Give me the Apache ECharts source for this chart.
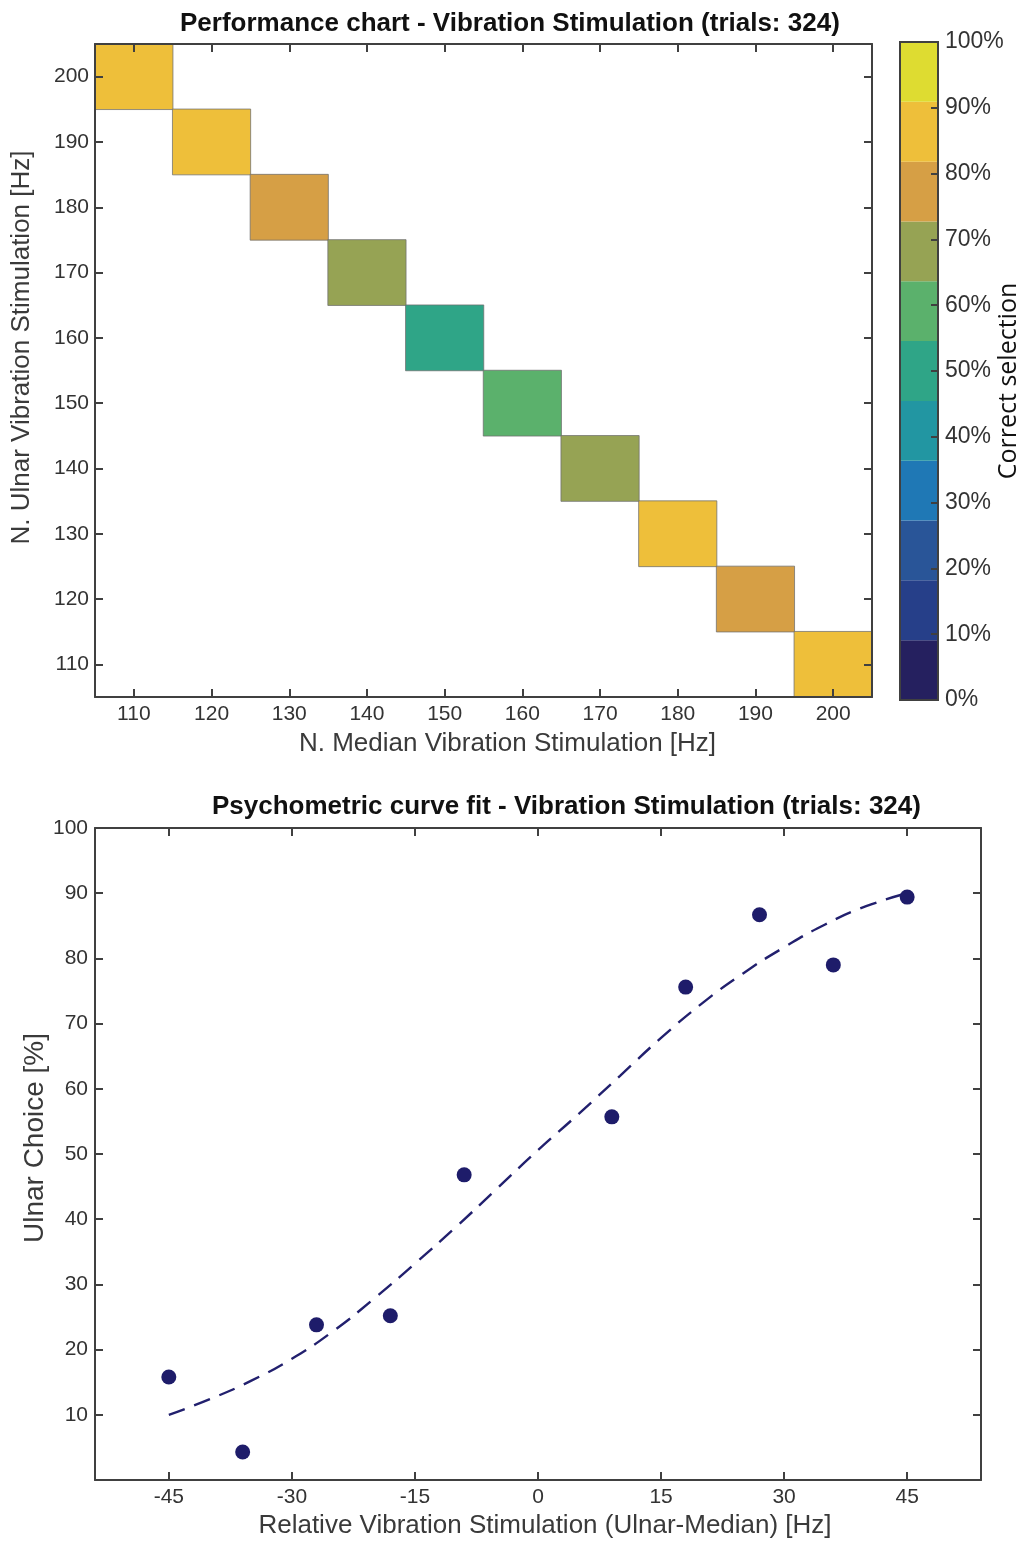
<!DOCTYPE html>
<html>
<head>
<meta charset="utf-8">
<script src="https://cdn.jsdelivr.net/npm/echarts@6/dist/echarts.min.js"></script>
<style>
html,body{margin:0;padding:0;background:#fff;}
#chart{width:1023px;height:1541px;}
</style>
</head>
<body>
<div id="chart"></div>
<script>
// ---------- Data ----------
var medianFreqs = ['110','120','130','140','150','160','170','180','190','200'];
var ulnarFreqs  = ['110','120','130','140','150','160','170','180','190','200'];
// cells along the anti-diagonal: [median, ulnar, % correct]
var cellMedian  = ['110','120','130','140','150','160','170','180','190','200'];
var cellUlnar   = ['200','190','180','170','160','150','140','130','120','110'];
var correctPct  = [85, 85, 77, 68, 50, 59, 68, 85, 77, 85];

// colour levels of the colour bar (bottom to top)
var palette = ['#25205F','#263F89','#295598','#1F78B5','#2296A2','#2FA587','#5BB16C','#96A354','#D69F45','#EEBF3A','#DEDC31'];

// psychometric data
var relStim   = [-45, -36, -27, -18, -9, 9, 18, 27, 36, 45];
var ulnarPct  = [15.8, 4.3, 23.8, 25.2, 46.8, 55.7, 75.6, 86.7, 79.0, 89.4];
// fitted curve
var fitX = [-45, -40, -35, -30, -25, -20, -15, -10, -5, 0, 5, 10, 15, 20, 25, 30, 35, 40, 45];
var fitY = [10.0, 12.4, 15.2, 18.6, 22.8, 27.8, 33.2, 38.8, 44.7, 50.6, 56.2, 62.0, 67.8, 73.1, 77.7, 81.7, 85.2, 88.0, 90.0];
var relTicks = [-45, -30, -15, 0, 15, 30, 45];

// ---------- Chart ----------
var FONT = 'Liberation Sans, Arial, Helvetica, sans-serif';
var AX = '#404040';
var chart = echarts.init(document.getElementById('chart'), null, {renderer:'canvas'});

function lineAxis(extra){
  var base = {
    z: 10,
    nameMoveOverlap: false,
    axisLine:{show:true, onZero:false, lineStyle:{color:AX, width:2}},
    axisTick:{show:true, inside:true, length:8, lineStyle:{color:AX, width:2}},
    splitLine:{show:false},
    axisLabel:{color:'#333', fontSize:21, fontFamily:FONT, margin:7},
    nameTextStyle:{color:'#3a3a3a', fontSize:26, fontFamily:FONT}
  };
  for (var k in extra){
    if (typeof extra[k] === 'object' && !Array.isArray(extra[k]) && base[k]) {
      base[k] = Object.assign({}, base[k], extra[k]);
    } else base[k] = extra[k];
  }
  return base;
}

var heatData = cellMedian.map(function(m,i){
  return [medianFreqs.indexOf(m), ulnarFreqs.indexOf(cellUlnar[i]), correctPct[i]];
});

var step = 100 / palette.length;
var pieces = palette.map(function(c,i){
  var p = {gte: i*step, color: c};
  if (i < palette.length-1) p.lt = (i+1)*step; else p.lte = 100;
  return p;
});

var colorbarSeries = palette.map(function(c){
  return {
    type:'bar', stack:'cb', xAxisIndex:2, yAxisIndex:2,
    data:[step], barWidth:'100%', itemStyle:{color:c}, silent:true
  };
});

var option = {
  animation:false,
  backgroundColor:'#fff',
  title:[
    {text:'Performance chart - Vibration Stimulation (trials: 324)', left:180, top:11, padding:0,
     textStyle:{fontSize:26, fontWeight:'bold', color:'#111', fontFamily:FONT}},
    {text:'Psychometric curve fit - Vibration Stimulation (trials: 324)', left:212, top:794, padding:0,
     textStyle:{fontSize:26, fontWeight:'bold', color:'#111', fontFamily:FONT}}
  ],
  grid:[
    {left:95, top:44, width:777, height:653, outerBoundsMode:'none', containLabel:false},
    {left:900, top:42, width:38, height:658, outerBoundsMode:'none', containLabel:false,
     show:true, borderColor:AX, borderWidth:2, backgroundColor:'transparent', z:10},
    {left:95, top:828, width:886, height:652, outerBoundsMode:'none', containLabel:false}
  ],
  visualMap:{
    type:'piecewise', show:false, seriesIndex:0, dimension:2, pieces:pieces
  },
  xAxis:[
    lineAxis({gridIndex:0, type:'category', data:medianFreqs, position:'bottom',
      axisTick:{alignWithLabel:true},
      name:'N. Median Vibration Stimulation [Hz]', nameLocation:'middle', nameGap:34,
      nameTextStyle:{padding:[0,0,0,48]}}),
    lineAxis({gridIndex:0, type:'category', data:medianFreqs, position:'top',
      axisTick:{alignWithLabel:true}, axisLabel:{show:false}}),
    {gridIndex:1, type:'category', data:[''], show:false},
    lineAxis({gridIndex:2, type:'value', min:-54, max:54, position:'bottom',
      axisTick:{customValues:relTicks}, axisLabel:{customValues:relTicks},
      name:'Relative Vibration Stimulation (Ulnar-Median) [Hz]', nameLocation:'middle', nameGap:33,
      nameTextStyle:{padding:[0,0,0,14]}}),
    lineAxis({gridIndex:2, type:'value', min:-54, max:54, position:'top',
      axisTick:{customValues:relTicks}, axisLabel:{show:false}})
  ],
  yAxis:[
    lineAxis({gridIndex:0, type:'category', data:ulnarFreqs, position:'left',
      axisTick:{alignWithLabel:true}, axisLabel:{margin:6},
      name:'N. Ulnar Vibration Stimulation [Hz]', nameLocation:'middle', nameGap:60, nameRotate:90,
      nameTextStyle:{padding:[0,0,0,46]}}),
    lineAxis({gridIndex:0, type:'category', data:ulnarFreqs, position:'right',
      axisTick:{alignWithLabel:true}, axisLabel:{show:false}}),
    lineAxis({gridIndex:1, type:'value', min:0, max:100, interval:10, position:'right',
      axisTick:{length:7}, axisLabel:{formatter:'{value}%', fontSize:23, margin:7},
      name:'Correct selection', nameLocation:'middle', nameGap:58, nameRotate:90,
      nameTextStyle:{fontFamily:'Open Sans, Noto Sans, sans-serif', fontSize:25, color:'#111', padding:[0,20,0,0]}}),
    lineAxis({gridIndex:2, type:'value', min:0, max:100, interval:10, position:'left',
      axisLabel:{showMinLabel:false},
      name:'Ulnar Choice [%]', nameLocation:'middle', nameGap:46, nameRotate:90,
      nameTextStyle:{fontSize:28, padding:[0,0,0,32]}}),
    lineAxis({gridIndex:2, type:'value', min:0, max:100, interval:10, position:'right',
      axisLabel:{show:false}})
  ],
  series:[
    {type:'heatmap', xAxisIndex:0, yAxisIndex:0, data:heatData,
     itemStyle:{borderColor:'rgba(110,110,110,0.75)', borderWidth:1}, emphasis:{disabled:true}}
  ].concat(colorbarSeries).concat([
    {type:'line', xAxisIndex:3, yAxisIndex:3, smooth:true, symbol:'none',
     data:fitX.map(function(x,i){return [x, fitY[i]];}),
     lineStyle:{color:'#22206E', width:2.4, type:[17,10]}, z:3},
    {type:'scatter', xAxisIndex:3, yAxisIndex:3, symbol:'circle', symbolSize:15,
     data:relStim.map(function(x,i){return [x, ulnarPct[i]];}),
     itemStyle:{color:'#1E1C6A', opacity:1}, z:4}
  ])
};
chart.setOption(option);
</script>
</body>
</html>
